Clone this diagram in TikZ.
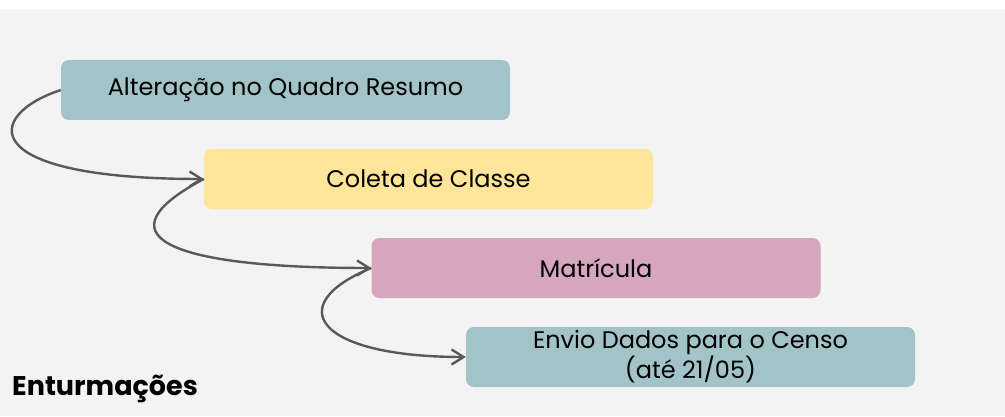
\documentclass[tikz,border=0pt]{standalone}
\usepackage{fontspec}
\setmainfont{Poppins}
\usetikzlibrary{positioning, arrows.meta}
\definecolor{boxteal}{HTML}{A2C4C9}
\definecolor{boxyellow}{HTML}{FFE599}
\definecolor{boxpink}{HTML}{D5A6BD}
\definecolor{panelgray}{HTML}{F3F3F3}
\definecolor{linkgray}{HTML}{595959}

\begin{document}
\begin{tikzpicture}[x=1pt, y=1pt, on grid,
  stage/.style={rounded corners=8pt, minimum width=449pt, minimum height=60pt,
    inner sep=0pt, align=center, font=\fontsize{24}{28}\selectfont},
  link/.style={draw=linkgray, line width=2.4pt,
    -{Straight Barb[length=12pt, width=15pt]}}]
  \useasboundingbox (0,0) rectangle (1005,416);
  \fill[panelgray] (0,0) rectangle (1005,407);
  \node[stage, fill=boxteal] (alt) at (285.5,326) {Alteração no Quadro Resumo};
  \node[stage, fill=boxyellow] (col) [below right=89pt and 143pt of alt] {Coleta de Classe};
  \node[stage, fill=boxpink] (mat) [below right=89pt and 167.5pt of col] {Matrícula};
  \node[stage, fill=boxteal] (env) [below right=89pt and 94.5pt of mat] {Envio Dados para o Censo\\(até 21/05)};
  \node[anchor=base west, inner sep=0pt, font=\bfseries\fontsize{27}{30}\selectfont] (title) at (12,21) {Enturmações};
  \path[link]
    (alt.west) .. controls +(-76,-25) and +(-230,0) .. (col.west);
  \path[link]
    (col.west) .. controls +(-104,-55) and +(-210,0) .. (mat.west);
  \path[link]
    (mat.west) .. controls +(-90,-37) and +(-150,0) .. (env.west);
\end{tikzpicture}
\end{document}
